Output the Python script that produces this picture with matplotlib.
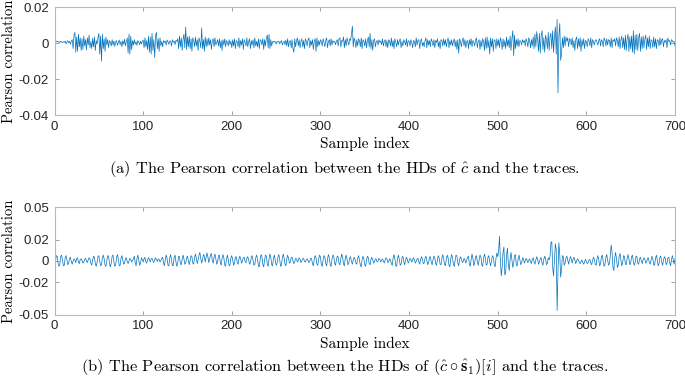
import numpy as np
import matplotlib
matplotlib.use('Agg')
import matplotlib.pyplot as plt

plt.rcParams['mathtext.fontset'] = 'cm'
plt.rcParams['axes.unicode_minus'] = False

# Pearson correlation values, in units of 1e-4
corr_c = [
    10, 8, 12, 6, 9, 4, 11, 7, 3, 9, 5, 12, -4, 8, 15, 2, 10, -6, 14, 20, -30, 45, 60, -50, 35,
    -45, 50, -20, 30, -40, 25, -35, 40, -15, 20, -38, 30, -10, 45, -25, 10, -30, 28, -20, 35, -40, 15, -5, 30, 55,
    -60, 40, -100, 50, -30, 25, -45, 35, -10, 20, -25, 15, 5, -15, 20, -10, 12, -18, 8, 15, -12, 5, 18, -8, 10,
    -20, 14, -6, 22, -15, 8, 30, -55, 50, -60, 40, -35, 15, -10, 20, -5, 8, -12, 15, 6, -8, 12, -4, 10, 18,
    -25, 30, -20, 15, -35, 40, -50, 35, -60, 55, -40, 20, -80, 45, 60, -30, 25, -45, 30, -15, 10, -20, 15, 5, 12,
    -10, 18, 8, -6, 14, 10, -15, 20, 5, 12, -8, 16, 10, 25, -30, 40, -20, 30, -40, 20, 50, -25, 90, -35, 35,
    -20, 40, -30, 25, -45, 30, 15, -20, 35, -15, 20, -40, 30, 10, -25, 85, -30, 20, -45, 35, -20, 25, -15, 30, -10,
    20, -35, 15, 25, -20, 30, -10, 5, 20, -15, 25, -25, 15, -40, 20, -10, 25, -20, 15, 5, -15, 20, -8, 12, -25,
    20, -15, 25, -30, 15, 10, -20, 30, -25, 15, -10, 25, -35, 20, 5, -15, 30, -20, 10, 25, -30, 15, -10, 20, -25,
    30, -15, 10, -20, 25, -30, 20, 15, -10, 25, -35, 20, -15, 30, 45, -25, 50, -30, 20, -15, 10, 5, 12, 8, -5,
    10, 6, 12, -4, 8, 15, -10, 5, 12, -8, 18, -15, 25, -20, 10, 15, -25, 20, -30, -50, 25, -20, 15, 30, -15,
    20, -25, 10, 25, -20, 15, -30, 25, 10, -15, 20, 30, -25, 15, -10, 20, -35, 10, 25, -45, 30, -20, 15, -10, 20,
    10, -15, 25, 5, -20, 15, 30, -25, 10, 20, -15, 25, -10, 15, 5, 10, -8, 12, 20, -15, 25, 30, -20, 15, 10,
    35, -25, 20, -15, 30, 10, -10, 25, 15, 50, 95, -20, 30, 10, -25, 20, -15, 25, 15, -20, 30, -30, 20, 10, -15,
    25, -25, 15, 35, -20, 55, -30, 20, -40, 15, 25, -20, 10, 15, -10, 20, 5, 12, -8, 25, -15, 10, 20, -20, 15,
    -25, 20, 10, -15, 30, -20, 15, -30, 25, 5, -20, 20, -10, 15, 25, -25, 10, -15, 20, 8, -10, 25, -20, 15, 10,
    -15, 20, 5, -25, 15, 10, -20, 30, -10, 15, 20, -30, 10, 25, -15, 5, -20, 15, 30, -25, 20, -10, 15, -20, 25,
    10, -15, 20, -25, 15, 5, 25, -20, 10, -30, 20, 15, -15, 25, -10, 20, -20, 10, 30, -25, 15, -10, 20, -15, 10,
    25, -20, 15, -35, 20, -55, 25, 10, -20, 15, 30, -15, 20, -25, 10, 15, -30, 20, -10, 25, -20, 15, 5, -15, 20,
    30, -25, 10, 20, -35, 15, -20, 25, 10, -40, 30, -30, 35, -25, 15, -60, 30, -20, 25, -45, 20, 15, -30, 25, -15,
    20, -25, 30, 10, -35, 25, -20, 15, -30, 35, -15, 20, -25, 40, -40, 25, 70, -70, 45, -30, 20, -15, 25, -20, 15,
    10, -10, 20, 5, 15, -15, 25, 10, -20, 30, 15, -25, 20, -15, 35, -30, 50, -20, 65, 20, -45, 55, -55, 40, 70,
    -35, 30, -50, 45, 20, -30, 60, -40, 35, 55, -30, 70, -50, 40, 90, -60, 132, -275, 40, 110, -95, -60, 30, -25, 40,
    -15, 35, 10, 30, -20, 25, 20, -10, 30, -25, 15, -40, 20, 35, -30, 25, -20, 30, -45, 20, -15, 25, -30, 15, 10,
    -20, 25, 15, -15, 30, -25, 20, 10, -10, 15, 20, 5, -10, 15, 25, -15, 20, 10, -20, 30, 15, -15, 25, -10, 20,
    15, -20, 30, -25, 20, 10, 25, -15, 30, 15, -20, 35, -30, 20, 40, -25, 30, -35, 45, -40, 25, 50, -45, 35, -30,
    40, -50, 70, -60, 45, -35, 50, -40, 30, 55, -45, 35, -30, 40, -25, 25, 45, -35, 30, -20, 40, -30, 20, 15, -25,
    35, -20, 25, -30, 20, 15, -15, 30, -10, 20, 25, -20, 15, 5, 20, -25, 30, 10, 15, -10, 20, 15, 5, 10, -15,
]

corr_cs = [
    -10, 50, 45, -20, -50, -30, 40, 55, 10, -45, -40, 30, 50, 5, -35, -20, 25, 35, -10, -30, 0, 20, 10, -15, 25,
    30, -10, -25, 15, 20, 5, -20, -10, 15, 25, 0, -15, 10, 30, 20, -20, -40, 10, 45, 35, -25, -50, -15, 40, 50,
    -5, -45, -35, 30, 55, 20, -40, -50, 5, 50, 45, -25, -55, -20, 45, 55, -10, -50, -35, 35, 60, 15, -45, -40, 25,
    50, 10, -30, -20, 20, 30, -5, -25, 0, 25, 15, -10, 5, 20, 45, -15, -45, 20, 55, 10, -40, -20, 30, 15, -10,
    20, 35, -5, -20, 10, 30, 15, -10, 20, 25, 0, -15, 15, 30, 10, -5, 20, 15, -10, 5, 25, 35, -20, -45, 15,
    55, 20, -40, -45, 30, 60, 10, -45, -40, 35, 55, -10, -50, -15, 45, 40, -25, -35, 15, 55, 20, -30, -20, 30, 45,
    5, -35, 10, 50, 40, -20, -30, 30, 65, 25, -25, 10, 55, 80, 20, -20, 15, 60, 45, -10, 30, 75, 40, -15, 20,
    55, 70, 5, -20, 40, 65, 20, -30, -10, 50, 55, -15, -40, 25, 60, 30, -35, -50, 20, 55, 15, -45, -35, 30, 50,
    10, -40, -20, 35, 40, -10, -30, 15, 45, 20, -20, 0, 30, 35, -5, -15, 25, 40, 10, -30, -15, 35, 50, 5, -40,
    -30, 30, 55, 20, -45, -55, 15, 60, 40, -35, -55, 10, 55, 45, -30, -50, 20, 65, 35, -35, -45, 25, 55, 10, -40,
    -25, 35, 60, 15, -50, -40, 30, 65, 30, -30, -45, 20, 55, 25, -20, -10, 30, 35, 0, -25, -5, 25, 20, -10, 5,
    30, 15, -15, 0, 20, 25, -5, -10, 10, 20, 5, -15, 0, 25, 20, -25, -45, 15, 50, 30, -30, -40, 20, 55, 35,
    -35, -50, 10, 50, 40, -25, -45, 20, 60, 30, -40, -50, 15, 55, 45, -20, -40, 10, 45, 35, -25, -35, 20, 65, 40,
    -30, -45, 25, 55, 15, -35, -20, 30, 40, -5, -30, 10, 35, 20, -20, -30, 25, 50, 10, -40, -55, 15, 45, 20, -35,
    -50, 10, 45, 30, -25, -35, 15, 35, 10, -20, -5, 20, 15, -10, 0, 25, 15, -10, 5, 20, 0, -20, 10, 30, 20,
    -15, -5, 20, 10, -25, -40, 30, 60, 20, -45, -50, 25, 55, 15, -40, -30, 30, 45, -5, -35, 5, 35, 15, -20, 0,
    25, 15, -10, 10, 30, 10, -20, -5, 20, 25, -10, -30, 15, 40, 20, -25, -20, 25, 45, 5, -35, -15, 35, 40, -10,
    -35, 10, 45, 30, -25, -40, 20, 50, 25, -30, -35, 25, 60, 20, -30, -45, 15, 55, 30, -40, -55, 20, 60, 35, -35,
    -50, 10, 55, 45, -20, -45, 15, 40, 20, -15, -5, 25, 10, -20, 10, 35, 45, -30, -50, 15, 65, 25, -45, -20, 40,
    50, -5, -40, 10, 55, 40, -35, -50, 20, 65, 30, -40, -30, 35, 50, -10, -45, 5, 50, 35, -30, -55, 20, 75, 40,
    90, 230, 10, -140, -60, 80, 130, -130, -110, 60, 120, -30, -90, 20, 80, 10, -60, -20, 50, 60, -40, -45, 20, 55, 10,
    -35, -15, 30, 20, -20, 0, 25, 10, -15, 5, 20, -5, -25, 15, 30, -10, -30, 10, 40, 15, -30, -10, 25, 30, -20,
    -40, 15, 45, 20, -35, -20, 30, 10, 40, 170, 180, -60, -140, 20, 160, 110, -460, -90, 170, 60, -150, -80, 50, 40, -40,
    -20, 30, 45, 5, -30, 10, 40, 20, -20, 15, 35, 10, -25, 0, 20, 10, -10, -25, -5, 10, -15, -30, -10, 15, -5,
    -25, -15, 10, 15, -20, -35, 5, 35, 20, -30, -40, 20, 50, 10, -45, -25, 40, 55, -5, -50, -30, 35, 60, 10, -40,
    -20, 50, 150, 80, -60, -90, 30, 80, 20, -60, -40, 45, 70, 5, -45, -10, 50, 40, -30, -35, 25, 60, 20, -35, -20,
    40, 55, 0, -40, -15, 45, 40, -20, -30, 20, 35, 0, -25, 10, 30, 15, -20, -10, 25, 30, -15, -30, 10, 45, 20,
    -35, -40, 25, 55, 10, -45, -25, 35, 45, -10, -40, 5, 40, 25, -35, -20, 30, 35, -15, -45, 10, 50, 15, -30, 20,
]

x_ticks = [0, 100, 200, 300, 400, 500, 600, 700]
y_ticks_a = [-0.04, -0.02, 0, 0.02]
y_labels_a = ['-0.04', '-0.02', '0', '0.02']
y_ticks_b = [-0.05, -0.02, 0, 0.02, 0.05]
y_labels_b = ['-0.05', '-0.02', '0', '0.02', '0.05']

caption_a = r'(a) The Pearson correlation between the HDs of $\hat{c}$ and the traces.'
caption_b = (r'(b) The Pearson correlation between the HDs of '
             r'$(\hat{c} \circ \hat{\mathbf{s}}_1)[i]$ and the traces.')

line_color = '#0072BD'
edge_color = '#b8b8b8'
tick_font = 'Liberation Sans'
serif_font = 'cmr10'

fig = plt.figure(figsize=(6.85, 3.8), dpi=100)
ax_a = fig.add_axes([0.0796, 0.6965, 0.9058, 0.2846])
ax_b = fig.add_axes([0.0796, 0.1719, 0.9058, 0.2826])


def style_axes(ax, values, yticks, ylabels, ylim):
    y = np.array(values) * 1e-4
    x = np.arange(1, len(y) + 1)
    ax.plot(x, y, color=line_color, linewidth=0.5)
    ax.set_xlim(0, 700)
    ax.set_ylim(*ylim)
    ax.set_xticks(x_ticks)
    ax.set_xticklabels([str(t) for t in x_ticks], fontfamily=tick_font, fontsize=9.5, color='#262626')
    ax.set_yticks(yticks)
    ax.set_yticklabels(ylabels, fontfamily=tick_font, fontsize=9.5, color='#262626')
    ax.tick_params(direction='in', length=3, width=0.6, color='#909090',
                   top=True, right=True, pad=4)
    for s in ax.spines.values():
        s.set_color(edge_color)
        s.set_linewidth(0.8)
    ax.set_xlabel('Sample index', fontfamily=serif_font, fontsize=11, labelpad=3)
    ax.set_ylabel('Pearson correlation', fontfamily=serif_font, fontsize=10.5, labelpad=2)


style_axes(ax_a, corr_c, y_ticks_a, y_labels_a, (-0.04, 0.02))
style_axes(ax_b, corr_cs, y_ticks_b, y_labels_b, (-0.05, 0.05))

fig.text(0.503, 0.555, caption_a, ha='center', va='center', fontfamily=serif_font, fontsize=11.8)
fig.text(0.503, 0.032, caption_b, ha='center', va='center', fontfamily=serif_font, fontsize=11.8)

fig.savefig('out.png', dpi=100)
